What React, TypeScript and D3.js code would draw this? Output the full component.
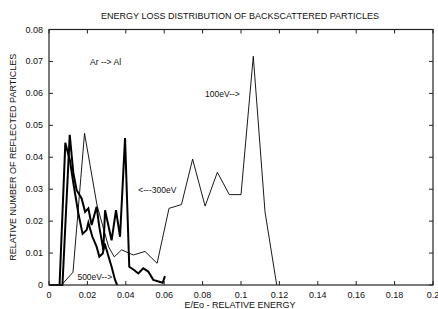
import React from "react"
import * as d3 from "d3"

// E/Eo vs relative number of reflected particles
const e100 = [0, 0.0065, 0.0125, 0.0185, 0.025, 0.031, 0.034, 0.0378, 0.0439, 0.05, 0.0563, 0.0625, 0.069, 0.0748, 0.0813, 0.0877, 0.0939, 0.1, 0.1064, 0.1125, 0.1186]
const n100 = [0, 0, 0.004, 0.0475, 0.025, 0.012, 0.0088, 0.011, 0.0094, 0.0105, 0.0068, 0.024, 0.0252, 0.0394, 0.0247, 0.0353, 0.0283, 0.0283, 0.0716, 0.0229, 0]

const e300 = [0, 0.007, 0.0108, 0.0127, 0.0144, 0.017, 0.0188, 0.0205, 0.0222, 0.0248, 0.0262, 0.0283, 0.0292, 0.0326, 0.0349, 0.037, 0.0396, 0.0418, 0.0443, 0.0465, 0.0491, 0.0517, 0.0543, 0.0592, 0.0604]
const n300 = [0, 0, 0.047, 0.0349, 0.0297, 0.0271, 0.0229, 0.024, 0.0188, 0.0245, 0.0182, 0.011, 0.0234, 0.014, 0.0234, 0.0151, 0.046, 0.0057, 0.0047, 0.0036, 0.0052, 0.0042, 0.0016, 0.0007, 0.0028]

const e500 = [0, 0.0055, 0.0085, 0.0109, 0.0127, 0.0153, 0.0175, 0.0196, 0.0205, 0.0226, 0.0248, 0.0262, 0.028, 0.029, 0.0326, 0.0344, 0.0355]
const n500 = [0, 0, 0.0445, 0.039, 0.0318, 0.0224, 0.016, 0.0172, 0.0195, 0.0151, 0.012, 0.0089, 0.0099, 0.013, 0.0057, 0.0016, 0]

const xTicks = [0, 0.02, 0.04, 0.06, 0.08, 0.1, 0.12, 0.14, 0.16, 0.18, 0.2]
const yTicks = [0, 0.01, 0.02, 0.03, 0.04, 0.05, 0.06, 0.07, 0.08]

const labels = [
  { text: "Ar --> Al", x: 0.0214, y: 0.069 },
  { text: "100eV-->", x: 0.0813, y: 0.059 },
  { text: "<---300eV", x: 0.0465, y: 0.0288 },
  { text: "500eV-->", x: 0.0148, y: 0.0016 },
]

const W = 438
const H = 309
const left = 49
const right = 433
const top = 29.5
const bottom = 285

const font = "'Liberation Sans', Arial, Helvetica, sans-serif"

export default function App() {
  const x = d3.scaleLinear().domain([0, 0.2]).range([left, right])
  const y = d3.scaleLinear().domain([0, 0.08]).range([bottom, top])

  const line = d3.line<number>()
  const path = (es: number[], ns: number[]) =>
    line(es.map((e, i) => [x(e), y(ns[i])]) as any) || ""

  const series = [
    { d: path(e100, n100), w: 0.9 },
    { d: path(e300, n300), w: 2 },
    { d: path(e500, n500), w: 2 },
  ]

  return (
    <svg width={W} height={H} style={{ position: "absolute", left: 0, top: 0, background: "#fff" }}
      fontFamily={font}>
      <text x={240} y={19} fontSize={9} textAnchor="middle" fill="#111">
        ENERGY LOSS DISTRIBUTION OF BACKSCATTERED PARTICLES
      </text>

      {series.map((s, i) => (
        <path key={i} d={s.d} fill="none" stroke="#000" strokeWidth={s.w} strokeLinejoin="miter" />
      ))}

      <rect x={left} y={top} width={right - left} height={bottom - top} fill="none" stroke="#222" strokeWidth={1.2} />

      {xTicks.map((t) => (
        <g key={"x" + t}>
          <line x1={x(t)} x2={x(t)} y1={bottom} y2={bottom - 4} stroke="#222" />
          <line x1={x(t)} x2={x(t)} y1={top} y2={top + 4} stroke="#222" />
          <text x={x(t)} y={298} fontSize={9} textAnchor="middle" fill="#111">{d3.format("~g")(t)}</text>
        </g>
      ))}
      {yTicks.map((t) => (
        <g key={"y" + t}>
          <line x1={left} x2={left + 4} y1={y(t)} y2={y(t)} stroke="#222" />
          <line x1={right} x2={right - 4} y1={y(t)} y2={y(t)} stroke="#222" />
          <text x={43} y={y(t) + 3} fontSize={9} textAnchor="end" fill="#111">{d3.format("~g")(t)}</text>
        </g>
      ))}

      {labels.map((l) => (
        <text key={l.text} x={x(l.x)} y={y(l.y)} fontSize={8.5} fill="#111">{l.text}</text>
      ))}

      <text x={240} y={308} fontSize={9} textAnchor="middle" fill="#111">E/Eo - RELATIVE ENERGY</text>
      <text transform={`translate(16,${(top + bottom) / 2}) rotate(-90)`} fontSize={9} textAnchor="middle" fill="#111">
        RELATIVE NUMBER OF REFLECTED PARTICLES
      </text>
    </svg>
  )
}
